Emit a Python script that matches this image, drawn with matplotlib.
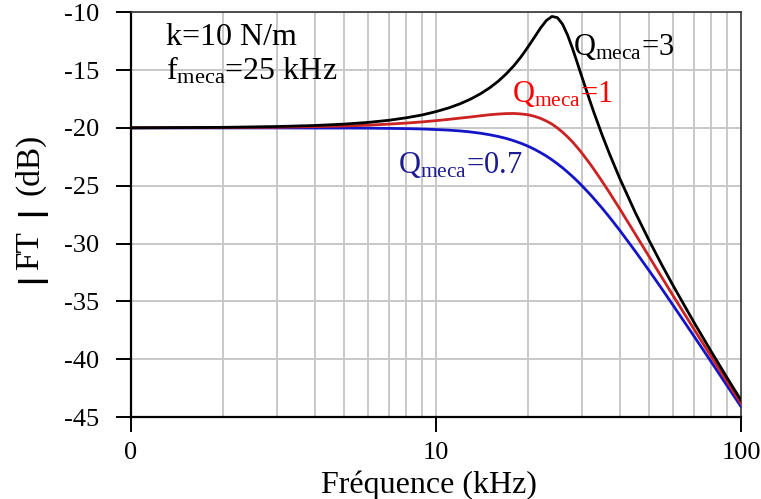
import matplotlib
matplotlib.use("Agg")
import matplotlib.pyplot as plt
from matplotlib.ticker import FixedLocator, NullLocator, FixedFormatter

plt.rcParams['font.family'] = ['Liberation Serif', 'DejaVu Serif']
plt.rcParams['mathtext.fontset'] = 'custom'
plt.rcParams['mathtext.rm'] = 'Liberation Serif'
plt.rcParams['mathtext.it'] = 'Liberation Serif:italic'

# Frequency (kHz)
freq = [1, 2, 3, 4, 5, 6, 7, 8, 9, 10, 11, 12, 13, 14, 15, 16, 17, 18, 19, 20,
        21, 22, 23, 24, 25, 26, 27, 28, 29, 30, 32, 33, 35, 37, 40, 45, 50, 55,
        60, 70, 80, 90, 100]
# |FT| in dB for each Q
q3 = [-19.99, -19.95, -19.88, -19.79, -19.67, -19.52, -19.34, -19.12, -18.88,
      -18.59, -18.27, -17.91, -17.50, -17.04, -16.53, -15.96, -15.32, -14.62,
      -13.85, -13.02, -12.18, -11.37, -10.71, -10.36, -10.46, -11.03, -11.97,
      -13.10, -14.30, -15.49, -17.70, -18.72, -20.57, -22.20, -24.34, -27.31,
      -29.75, -31.84, -33.67, -36.78, -39.37, -41.60, -43.55]
q1 = [-19.99, -19.97, -19.94, -19.89, -19.83, -19.76, -19.67, -19.58, -19.48,
      -19.37, -19.26, -19.15, -19.05, -18.95, -18.86, -18.80, -18.76, -18.75,
      -18.79, -18.86, -18.99, -19.17, -19.40, -19.67, -20.00, -20.37, -20.77,
      -21.20, -21.66, -22.13, -23.11, -23.61, -24.60, -25.57, -26.98, -29.17,
      -31.14, -32.92, -34.54, -37.37, -39.81, -41.93, -43.83]
q07 = [-20.00, -20.00, -20.00, -20.01, -20.01, -20.02, -20.04, -20.06, -20.09,
       -20.14, -20.19, -20.26, -20.35, -20.46, -20.59, -20.74, -20.91, -21.11,
       -21.33, -21.57, -21.84, -22.13, -22.43, -22.76, -23.10, -23.45, -23.82,
       -24.19, -24.57, -24.96, -25.74, -26.14, -26.92, -27.70, -28.84, -30.66,
       -32.35, -33.91, -35.37, -37.98, -40.26, -42.29, -44.10]

x_major = [1, 10, 100]
x_major_labels = ['0', '10', '100']
x_grid = [2, 3, 4, 5, 6, 7, 8, 9, 10, 20, 30, 40, 50, 60, 70, 80, 90]
y_ticks = [-10, -15, -20, -25, -30, -35, -40, -45]

fig = plt.figure(figsize=(7.61, 4.99), dpi=100)
ax = fig.add_axes([131/761, 1-417/499, (741-131)/761, (417-12.3)/499])
ax.set_xscale('log')
ax.set_xlim(1, 100)
ax.set_ylim(-45, -10)

# grid
for g in x_grid:
    ax.axvline(g, color='#c8c8c8', lw=1.4, zorder=0)
for yv in y_ticks:
    ax.axhline(yv, color='#c8c8c8', lw=1.4, zorder=0)

ax.plot(freq, q07, color='#1414c8', lw=2.0, zorder=3)
ax.plot(freq, q1, color='#cc2222', lw=2.0, zorder=4)
ax.plot(freq, q3, color='black', lw=2.0, zorder=5)

ax.xaxis.set_major_locator(FixedLocator(x_major))
ax.xaxis.set_major_formatter(FixedFormatter(x_major_labels))
ax.xaxis.set_minor_locator(NullLocator())
ax.set_yticks(y_ticks)
ax.set_yticklabels([str(v) for v in y_ticks])
ax.tick_params(axis='both', direction='out', length=11, width=1.4,
               labelsize=19, color='black')
ax.tick_params(axis='y', pad=12)
ax.tick_params(axis='x', pad=7)

for s in ['left', 'bottom']:
    ax.spines[s].set_linewidth(1.6)
    ax.spines[s].set_color('black')
for s in ['top', 'right']:
    ax.spines[s].set_linewidth(1.2)
    ax.spines[s].set_color('#333333')

ax.set_xlabel('Fréquence (kHz)', fontsize=23)
ax.xaxis.set_label_coords((429-131)/610, -(485-417)/405)
ax.xaxis.label.set_va('center')

# y label pieces
fs_lab = 24
fig.text(30/761, 1-277/499, '|', rotation=90, fontsize=22, fontweight='heavy',
         family='DejaVu Sans', ha='center', va='center')
fig.text(30/761, 1-251/499, 'FT', rotation=90, fontsize=fs_lab,
         ha='center', va='center')
fig.text(30/761, 1-210/499, '|', rotation=90, fontsize=22, fontweight='heavy',
         family='DejaVu Sans', ha='center', va='center')
fig.text(30/761, 1-164/499, '(dB)', rotation=90, fontsize=fs_lab,
         ha='center', va='center')

def px(x, y):
    return (x/761, 1-y/499)

fig.text(*px(166, 45), 'k=10 N/m', fontsize=23, ha='left', va='baseline')
fig.text(*px(166, 80), r'f$_{\mathrm{meca}}$=25 kHz', fontsize=23, ha='left', va='baseline')
fig.text(*px(573, 55), r'Q$_{\mathrm{meca}}$=3', fontsize=22, ha='left', va='baseline', color='black')
fig.text(*px(512, 102), r'Q$_{\mathrm{meca}}$=1', fontsize=22, ha='left', va='baseline', color='#ff0000')
fig.text(*px(398, 173), r'Q$_{\mathrm{meca}}$=0.7', fontsize=22, ha='left', va='baseline', color='#1c1c90')

fig.savefig('out.png', dpi=100)
